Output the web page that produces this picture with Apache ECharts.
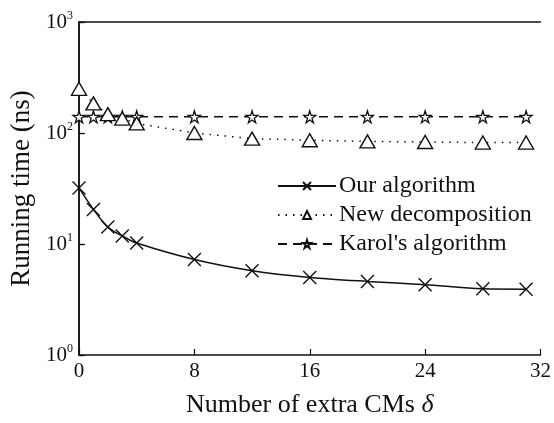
<!DOCTYPE html>
<html>
<head>
<meta charset="utf-8">
<script src="https://cdn.jsdelivr.net/npm/echarts@6/dist/echarts.min.js"></script>
<style>
  html, body { margin: 0; padding: 0; background: #fff; }
  #chart { width: 554px; height: 423px; }
</style>
</head>
<body>
<div id="chart"></div>
<script>
// Number of extra CMs (delta) sampled on the x axis
const deltas = [0, 1, 2, 3, 4, 8, 12, 16, 20, 24, 28, 31];
// Running times in ns
const ourAlgorithm = [32, 20.5, 14.2, 11.8, 10.2, 7.25, 5.75, 5.0, 4.6, 4.3, 3.95, 3.92];
const newDecomposition = [250, 185, 148, 135, 122, 100, 89, 86, 84, 83, 82, 82];
const karolAlgorithm = [140, 140, 140, 140, 140, 140, 140, 140, 140, 140, 140, 140];
// Axis ticks
const xTicks = [0, 8, 16, 24, 32];
const yExponents = [0, 1, 2, 3];

const seriesNames = ['Our algorithm', 'New decomposition', "Karol's algorithm"];
const SERIF = '"Liberation Serif", "Times New Roman", serif';

const crossPath = 'path://M0,0L10,10M10,0L0,10';
const starPath = 'path://M50,0 L61,35 L98,35 L68,57 L79,91 L50,70 L21,91 L32,57 L2,35 L39,35 Z';

function pairs(ys) { return deltas.map((x, i) => [x, ys[i]]); }

const chart = echarts.init(document.getElementById('chart'), null, { renderer: 'canvas' });

const option = {
  backgroundColor: '#fff',
  animation: false,
  grid: { left: 78, right: 11, top: 22, bottom: 64, containLabel: false },
  legend: {
    orient: 'vertical',
    left: 272,
    top: 169,
    itemWidth: 58,
    itemHeight: 10,
    itemGap: 5,
    textStyle: { fontFamily: SERIF, fontSize: 24, color: '#111', padding: [0, 0, 0, -2] },
    data: seriesNames
  },
  xAxis: [{
    type: 'value',
    min: xTicks[0],
    max: xTicks[xTicks.length - 1],
    interval: 8,
    position: 'bottom',
    name: 'Number of extra CMs {i|δ}',
    nameLocation: 'middle',
    nameGap: 37,
    nameTextStyle: {
      fontFamily: SERIF, fontSize: 26, color: '#111',
      rich: { i: { fontFamily: SERIF, fontSize: 26, fontStyle: 'italic', color: '#111' } }
    },
    axisLine: { lineStyle: { color: '#111', width: 1.5 } },
    axisTick: { inside: true, length: 6, lineStyle: { color: '#111', width: 1.2 } },
    axisLabel: { fontFamily: SERIF, fontSize: 21, color: '#111', margin: 6 },
    splitLine: { show: false }
  }, {
    type: 'value',
    min: xTicks[0],
    max: xTicks[xTicks.length - 1],
    interval: 8,
    position: 'top',
    axisLine: { lineStyle: { color: '#111', width: 1.5 } },
    axisTick: { show: false },
    axisLabel: { show: false },
    splitLine: { show: false }
  }],
  yAxis: [{
    type: 'log',
    logBase: 10,
    min: Math.pow(10, yExponents[0]),
    max: Math.pow(10, yExponents[yExponents.length - 1]),
    position: 'left',
    name: 'Running time (ns)',
    nameLocation: 'middle',
    nameGap: 44,
    nameTextStyle: { fontFamily: SERIF, fontSize: 27, color: '#111' },
    axisLine: { show: true, lineStyle: { color: '#111', width: 1.5 } },
    axisTick: { show: true, inside: true, length: 6, lineStyle: { color: '#111', width: 1.2 } },
    minorTick: { show: false },
    axisLabel: {
      margin: 6,
      formatter: function (v) {
        const e = Math.round(Math.log10(v));
        return '{b|10}{s|' + e + '}';
      },
      rich: {
        b: { fontFamily: SERIF, fontSize: 21, color: '#111' },
        s: { fontFamily: SERIF, fontSize: 12, color: '#111', verticalAlign: 'top', padding: [0, 0, 12, 0] }
      }
    },
    splitLine: { show: false }
  }, {
    type: 'log',
    logBase: 10,
    min: Math.pow(10, yExponents[0]),
    max: Math.pow(10, yExponents[yExponents.length - 1]),
    position: 'right',
    axisLine: { show: true, lineStyle: { color: '#111', width: 1.5 } },
    axisTick: { show: true, inside: false, length: 4, lineStyle: { color: '#111', width: 1.2 } },
    axisLabel: { show: false },
    splitLine: { show: false }
  }],
  series: [{
    name: seriesNames[0],
    type: 'line',
    data: pairs(ourAlgorithm),
    smooth: 0.3,
    symbol: crossPath,
    symbolSize: 13,
    showAllSymbol: true,
    lineStyle: { color: '#111', width: 1.5, type: 'solid' },
    itemStyle: { color: 'rgba(0,0,0,0)', borderColor: '#111', borderWidth: 1.4 },
    z: 3
  }, {
    name: seriesNames[1],
    type: 'line',
    data: pairs(newDecomposition),
    symbol: 'triangle',
    symbolSize: [15, 13],
    showAllSymbol: true,
    lineStyle: { color: '#111', width: 1.5, type: [1.5, 6] },
    itemStyle: { color: '#fff', borderColor: '#111', borderWidth: 1.4 },
    z: 4
  }, {
    name: seriesNames[2],
    type: 'line',
    data: pairs(karolAlgorithm),
    symbol: starPath,
    symbolSize: 12,
    showAllSymbol: true,
    lineStyle: { color: '#111', width: 1.5, type: [9, 6] },
    itemStyle: { color: '#fff', borderColor: '#111', borderWidth: 1.3 },
    z: 3
  }]
};

chart.setOption(option);
</script>
</body>
</html>
